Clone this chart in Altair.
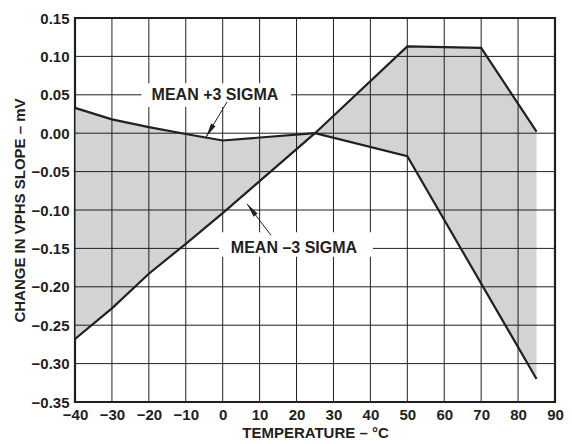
import math
import altair as alt
import pandas as pd

# ---- data ----
temp_plus = [-40, -30, -20, -10, 0, 25, 50, 85]
plus_sigma = [0.033, 0.018, 0.008, -0.001, -0.0095, 0.0, -0.030, -0.320]

temp_minus = [-40, -30, -20, -10, 0, 25, 50, 70, 85]
minus_sigma = [-0.268, -0.228, -0.183, -0.144, -0.104, 0.0, 0.113, 0.111, 0.002]

x_ticks = [-40, -30, -20, -10, 0, 10, 20, 30, 40, 50, 60, 70, 80, 90]
y_ticks = [-0.35, -0.30, -0.25, -0.20, -0.15, -0.10, -0.05, 0.0, 0.05, 0.10, 0.15]

label_text = ["MEAN +3 SIGMA", "MEAN \u20133 SIGMA"]
label_x = [-2.1, 19.3]
label_y = [0.05, -0.15]
box_x1 = [-22.0, -1.0]
box_x2 = [18.5, 40.7]
box_y1 = [0.034, -0.161]
box_y2 = [0.065, -0.129]

arrow_tail_x = [1.2, 13.1]
arrow_tail_y = [0.041, -0.133]
arrow_head_x = [-4.5, 6.6]
arrow_head_y = [-0.005, -0.092]

# ---- layout ----
W, H = 480, 384
X_DOM = [-40, 90]
Y_DOM = [-0.35, 0.15]
INK = "#231f20"
FILL = "#d1d3d4"
FONT = "Liberation Sans"

# polygon: upper series forward, lower series backward
poly = pd.DataFrame({
    "t": temp_plus + temp_minus[::-1],
    "v": plus_sigma + minus_sigma[::-1],
})
poly["o"] = range(len(poly))

lines = pd.concat([
    pd.DataFrame({"t": temp_plus, "v": plus_sigma, "s": "plus"}),
    pd.DataFrame({"t": temp_minus, "v": minus_sigma, "s": "minus"}),
])

px_x = W / (X_DOM[1] - X_DOM[0])
px_y = H / (Y_DOM[1] - Y_DOM[0])
angles = []
for tx, ty, hx, hy in zip(arrow_tail_x, arrow_tail_y, arrow_head_x, arrow_head_y):
    dx = (hx - tx) * px_x
    dy = -(hy - ty) * px_y
    angles.append(math.degrees(math.atan2(dx, -dy)) % 360)

ann = pd.DataFrame({
    "text": label_text, "lx": label_x, "ly": label_y,
    "bx1": box_x1, "bx2": box_x2, "by1": box_y1, "by2": box_y2,
    "tx": arrow_tail_x, "ty": arrow_tail_y,
    "hx": arrow_head_x, "hy": arrow_head_y, "ang": angles,
})

xs = alt.Scale(domain=X_DOM, nice=False, zero=False)
ys = alt.Scale(domain=Y_DOM, nice=False, zero=False)

x_axis = alt.Axis(values=x_ticks, format="d", title="TEMPERATURE \u2013 \u00b0C",
                  grid=False, ticks=False, domain=False, labelPadding=5,
                  titlePadding=3, labelOverlap=False, labelFlush=False)
y_axis = alt.Axis(values=y_ticks, format=".2f", title="CHANGE IN VPHS SLOPE \u2013 mV",
                  grid=False, ticks=False, domain=False, labelPadding=6,
                  titlePadding=4, labelOverlap=False, labelFlush=False)


def X(field):
    return alt.X(field, scale=xs, axis=x_axis)


def Y(field):
    return alt.Y(field, scale=ys, axis=y_axis)


fill = alt.Chart(poly).mark_line(fill=FILL, strokeWidth=0, strokeOpacity=0).encode(
    x=X("t:Q"),
    y=Y("v:Q"),
    order="o:Q",
)

vgrid = alt.Chart(pd.DataFrame({"g": x_ticks})).mark_rule(color=INK, strokeWidth=1).encode(
    x=X("g:Q")
)
hgrid = alt.Chart(pd.DataFrame({"g": y_ticks})).mark_rule(color=INK, strokeWidth=1).encode(
    y=Y("g:Q")
)

boxes = alt.Chart(ann).mark_rect(color="white").encode(
    x=X("bx1:Q"), x2="bx2:Q",
    y=Y("by1:Q"), y2="by2:Q",
)

curve = alt.Chart(lines).mark_line(color=INK, strokeWidth=2.2).encode(
    x=X("t:Q"),
    y=Y("v:Q"),
    detail="s:N",
)

shafts = alt.Chart(ann).mark_rule(color=INK, strokeWidth=1).encode(
    x=X("tx:Q"), x2="hx:Q",
    y=Y("ty:Q"), y2="hy:Q",
)

heads = alt.Chart(ann).mark_point(
    shape="M0,0 L0.18,1 L-0.18,1 Z", filled=True, color=INK, size=800, opacity=1
).encode(
    x=X("hx:Q"),
    y=Y("hy:Q"),
    angle=alt.Angle("ang:Q", scale=None),
)

texts = alt.Chart(ann).mark_text(font=FONT, fontWeight="bold", fontSize=16, color=INK).encode(
    x=X("lx:Q"),
    y=Y("ly:Q"),
    text="text:N",
)

chart = alt.layer(fill, vgrid, hgrid, boxes, curve, shafts, heads, texts).properties(
    width=W, height=H,
    autosize=alt.AutoSizeParams(type="none"),
    padding={"left": 67, "top": 10, "right": 9, "bottom": 42},
    background="white",
).configure_view(
    stroke=INK, strokeWidth=2.2
).configure_axis(
    labelFont=FONT, labelFontWeight="bold", labelFontSize=15, labelColor=INK,
    titleFont=FONT, titleFontWeight="bold", titleFontSize=15, titleColor=INK,
    labelOverlap=False,
)

chart.save("out.html", embed_options={"renderer": "svg", "actions": False})
